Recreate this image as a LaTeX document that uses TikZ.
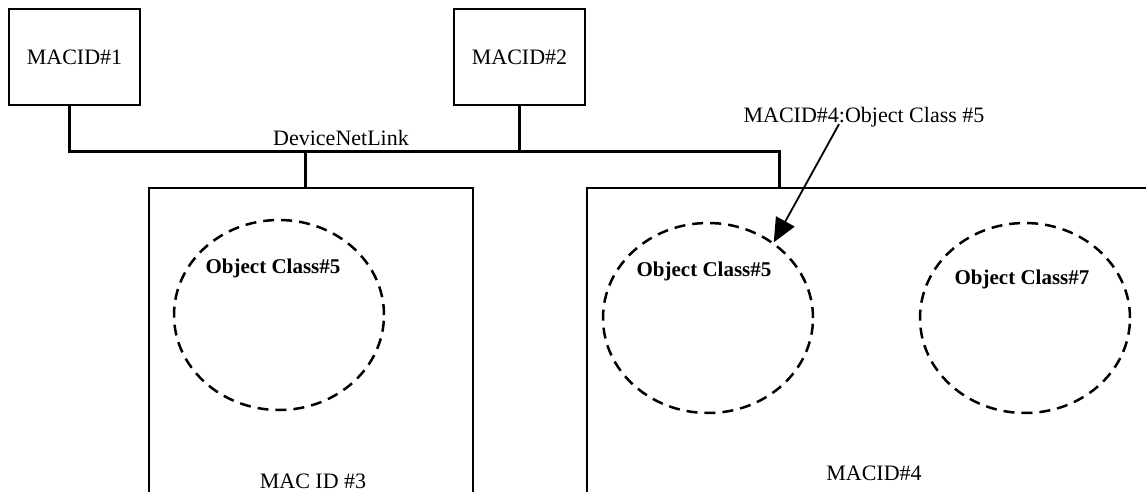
\documentclass[tikz,border=0pt]{standalone}
\usepackage{fontspec}
\setmainfont{Liberation Serif}
\usetikzlibrary{arrows.meta,positioning,shapes.geometric,calc}

\begin{document}
\begin{tikzpicture}[
    x=1pt, y=-1pt,
    font=\fontsize{22}{26}\selectfont,
    devbox/.style={draw=black, line width=1.5pt, inner sep=0pt},
    objclass/.style={ellipse, draw=black, dashed, line width=2.5pt, dash pattern=on 11pt off 7pt, minimum width=210pt, minimum height=190pt, inner sep=0pt},
    objtext/.style={font=\fontsize{21}{25}\selectfont\bfseries, inner sep=0pt},
    bus/.style={line width=3pt, line cap=rect},
    pointer/.style={-{Triangle[length=24pt,width=21pt]}, line width=1.8pt}
]

\useasboundingbox (0,0) rectangle (1146,492);
\clip (0,0) rectangle (1146,492);

% ===== TOP DEVICES =====
\node[devbox, minimum width=131pt, minimum height=96pt] (mac1) at (74.5,57) {MACID\#1};
\node[devbox, minimum width=131pt, minimum height=96pt] (mac2) at (519.5,57) {MACID\#2};

% ===== LOWER DEVICES =====
\node[devbox, minimum width=324pt, minimum height=340pt] (mac3) at (311,358) {};
\node[devbox, minimum width=613pt, minimum height=342pt] (mac4) at (893.5,359) {};
\node[inner sep=0pt] (mac3lbl) at (313,481) {MAC ID \#3};
\node[inner sep=0pt] (mac4lbl) at (874,473) {MACID\#4};

% object classes
\node[objclass] (oc3) at (279,315) {};
\node[objtext] (oc3lbl) at (273,268) {Object Class\#5};
\node[objclass] (oc45) at (708,318) {};
\node[objtext] (oc45lbl) at (704,271) {Object Class\#5};
\node[objclass] (oc47) at (1025,318) {};
\node[objtext] (oc47lbl) at (1022,279) {Object Class\#7};

% ===== DEVICENET LINK =====
\coordinate (busR) at (779,152);
\coordinate (tap3) at (305,152);
\draw[bus] ([xshift=-5.5pt]mac1.south) |- (busR) -- (busR |- mac4.north);
\draw[bus] (mac2.south) -- (mac2.south |- busR);
\draw[bus] (tap3) -- (tap3 |- mac3.north);
\node[inner sep=0pt] (link) at (341,138) {DeviceNetLink};

% pointer
\node[inner sep=0pt] (ptr) at (864,117) {MACID\#4:Object Class \#5};
\draw[pointer] ([xshift=-25pt,yshift=3pt]ptr.south) -- (oc45.49);

\end{tikzpicture}
\end{document}
